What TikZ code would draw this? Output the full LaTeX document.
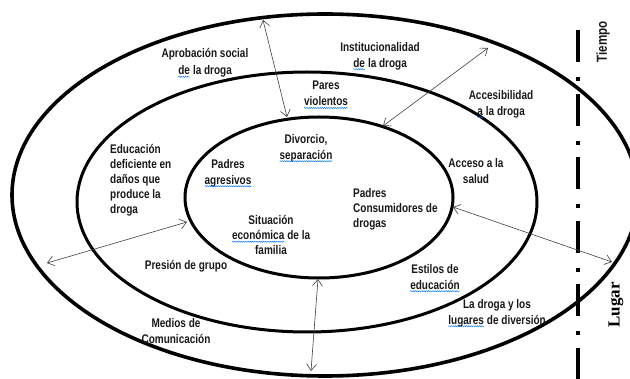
\documentclass[tikz,border=0pt]{standalone}
\usepackage{fontspec}
\setmainfont{Liberation Sans}[FakeStretch=0.8]
\newfontfamily\serifb{Liberation Serif}
\usetikzlibrary{arrows.meta,decorations.pathmorphing}
\tikzset{
  ring/.style={line width=3pt, draw=black},
  txt/.style={font=\fontsize{12.5}{16}\selectfont\bfseries, align=center, inner sep=0pt, text=black!90},
  dbl/.style={{Straight Barb[length=6.5pt,width=10pt]}-{Straight Barb[length=6.5pt,width=10pt]}, line width=0.6pt, draw=black!75},
  sqline/.style={draw=blue!55!cyan, line width=0.45pt, decorate, decoration={snake,amplitude=0.6pt,segment length=2.2pt}},
  timeline/.style={line width=4pt, dash pattern=on 32pt off 15pt on 4pt off 12.6pt}
}
\newcommand\sqw[1]{\tikz[baseline=(sqw.base)]{\node[inner sep=0pt,outer sep=0pt](sqw){#1};\draw[sqline]([yshift=-2.2pt]sqw.base west)--([yshift=-2.2pt]sqw.base east);}}
\begin{document}
\begin{tikzpicture}[x=1pt,y=-1pt]
\useasboundingbox[fill=white] (0,0) rectangle (630,379);
% rings
\coordinate (co) at (325,195);
\coordinate (cm) at (307,202);
\coordinate (ci) at (319,197.5);
\draw[ring, line width=3.6pt] (co) ellipse [x radius=313, y radius=181];
\draw[ring] (cm) ellipse [x radius=230, y radius=130];
\draw[ring] (ci) ellipse [x radius=134, y radius=80.5];
% time / place axis
\coordinate (tl1) at (578,30);
\coordinate (tl2) at (578,379);
\draw[timeline] (tl1) -- (tl2);
\node[txt, font=\fontsize{14.5}{14.5}\selectfont\bfseries, rotate=90] (tiempo) at (603,42) {Tiempo};
\node[rotate=90, inner sep=0pt, font=\serifb\fontsize{17}{17}\selectfont\bfseries] (lugar) at (616,305) {Lugar};
% arrows
\coordinate (a1s) at (488,48);   \coordinate (a1e) at (383,126);
\coordinate (a2s) at (263,20);   \coordinate (a2e) at (287,117);
\coordinate (a3s) at (47,263);   \coordinate (a3e) at (187,222);
\coordinate (a4s) at (453,207);  \coordinate (a4e) at (612,262);
\coordinate (a5s) at (318,279);  \coordinate (a5e) at (311,371);
\draw[dbl] (a1s) -- (a1e);
\draw[dbl] (a2s) -- (a2e);
\draw[dbl] (a3s) -- (a3e);
\draw[dbl] (a4s) -- (a4e);
\draw[dbl] (a5s) -- (a5e);
% texts
\node[txt, font=\fontsize{12.5}{17}\selectfont\bfseries] (t1) at (205,63) {Aprobación social\\\sqw{de} la droga};
\node[txt] (t2) at (380,56) {Institucionalidad\\\sqw{de} la droga};
\node[txt] (t3) at (326,95) {Pares\\\sqw{violentos}};
\node[txt] (t4) at (501,104) {Accesibilidad\\\sqw{a} la droga};
\node[txt] (t5) at (306,148) {Divorcio,\\\sqw{separación}};
\node[txt] (t6) at (476,171) {Acceso a la\\salud};
\node[txt, font=\fontsize{12.5}{15}\selectfont\bfseries, align=left, anchor=west] (t7) at (110,180) {Educación\\deficiente en\\daños que\\produce la\\droga};
\node[txt] (t8) at (228,173) {Padres\\\sqw{agresivos}};
\node[txt, font=\fontsize{12.5}{15}\selectfont\bfseries, align=left, anchor=west] (t9) at (353,209) {Padres\\Consumidores de\\drogas};
\node[txt, font=\fontsize{12.5}{15}\selectfont\bfseries] (t10) at (271,235) {Situación\\\sqw{económica} de la\\familia};
\node[txt] (t11) at (186,266) {Presión de grupo};
\node[txt] (t12) at (176,331) {Medios de\\Comunicación};
\node[txt] (t13) at (435,278) {Estilos de\\\sqw{educación}};
\node[txt] (t14) at (497,313) {La droga y los\\\sqw{lugares} de diversión};
\end{tikzpicture}
\end{document}
